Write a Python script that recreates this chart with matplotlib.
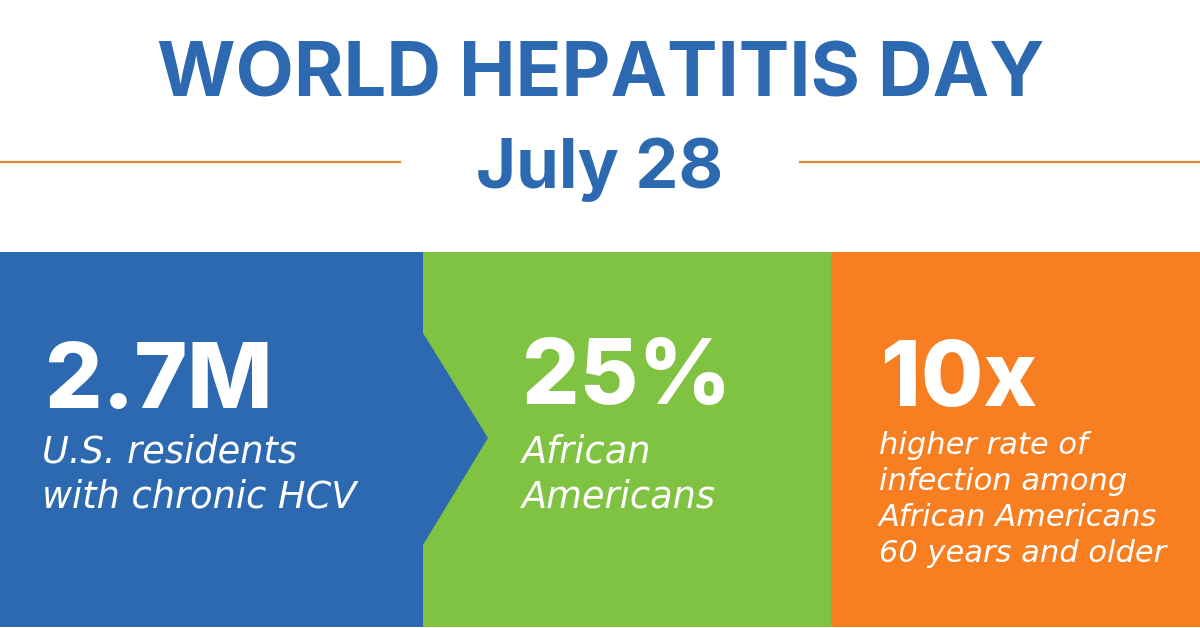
import matplotlib
matplotlib.use('Agg')
import matplotlib.pyplot as plt
from matplotlib.patches import Polygon, Rectangle

title = 'WORLD HEPATITIS DAY'
subtitle = 'July 28'

stats = ['2.7M', '25%', '10x']
captions = [
    ['U.S. residents', 'with chronic HCV'],
    ['African', 'Americans'],
    ['higher rate of', 'infection among', 'African Americans', '60 years and older'],
]
panel_left = [0, 423, 831]
panel_right = [423, 831, 1200]
panel_colors = ['#2d69b1', '#80c343', '#f77f22']
stat_x = [45, 522, 881]
stat_y = [384, 380, 382]
stat_size = [65, 65, 65]
caption_x = [42, 522, 879]
caption_y = [[452, 497], [452, 497], [446, 482, 518, 554]]
caption_size = [26.5, 26.5, 22]
blue = '#2d69b1'
rule = '#d98a3d'

fig = plt.figure(figsize=(12, 6.28), dpi=100)
ax = fig.add_axes([0, 0, 1, 1])
ax.set_xlim(0, 1200)
ax.set_ylim(628, 0)
ax.axis('off')

ax.text(601, 77, title, ha='center', va='center', color=blue, fontsize=54.5,
        family='Inter', weight='bold')
ax.text(600, 170, subtitle, ha='center', va='center', color=blue, fontsize=49.5,
        family='Inter', weight='bold')
ax.plot([0, 400], [162, 162], color=rule, lw=1.6)
ax.plot([800, 1200], [162, 162], color=rule, lw=1.6)

for i in [2, 1]:
    ax.add_patch(Rectangle((panel_left[i], 252), panel_right[i] - panel_left[i], 375,
                           color=panel_colors[i], lw=0))
ax.add_patch(Polygon([(0, 252), (423, 252), (423, 333), (488, 438), (423, 545),
                      (423, 627), (0, 627)], color=panel_colors[0], lw=0))

for i, s in enumerate(stats):
    ax.text(stat_x[i], stat_y[i], s, ha='left', va='center', color='white',
            fontsize=stat_size[i], family='Inter', weight='extra bold')
    for line, y in zip(captions[i], caption_y[i]):
        ax.text(caption_x[i], y, line, ha='left', va='center', color='white',
                fontsize=caption_size[i], family='DejaVu Sans', style='italic')

fig.savefig('out.png', dpi=100)
